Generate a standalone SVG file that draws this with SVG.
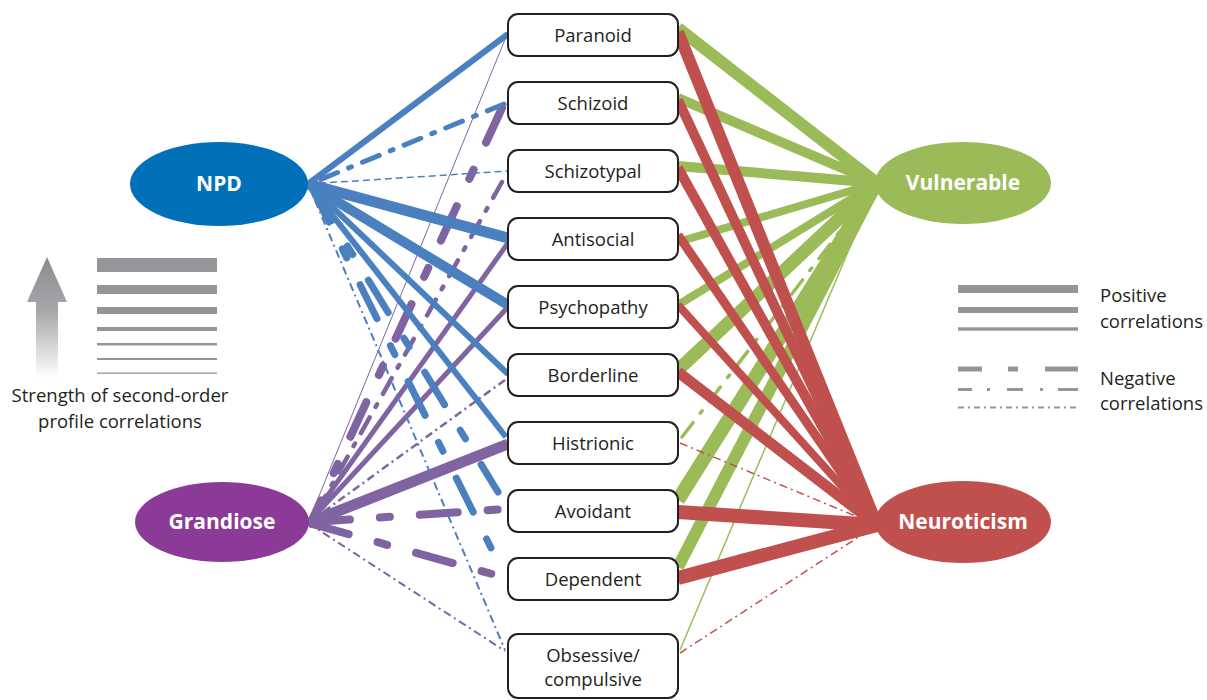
<svg xmlns="http://www.w3.org/2000/svg" width="1207" height="700" viewBox="0 0 1207 700">
<defs>
<linearGradient id="arrowGrad" x1="0" y1="0" x2="0" y2="1">
<stop offset="0" stop-color="#8a8b8e"/>
<stop offset="0.45" stop-color="#a7a8aa"/>
<stop offset="1" stop-color="#ffffff"/>
</linearGradient>
<style>
.box{fill:#fff;stroke:#231f20;stroke-width:2}
.lbl{font-family:"Open Sans","Liberation Sans",sans-serif;font-size:18.5px;fill:#231f20;text-anchor:middle}
.hub{font-family:"Open Sans","Liberation Sans",sans-serif;font-size:21px;font-weight:bold;fill:#fff;text-anchor:middle}
.leg{font-family:"Open Sans","Liberation Sans",sans-serif;font-size:18.5px;fill:#231f20}
.b{stroke:#4a80c0;fill:none}
.p{stroke:#8064a2;fill:none}
.g{stroke:#9bbb59;fill:none}
.r{stroke:#c0504d;fill:none}
.s{stroke-linecap:butt}
.heavy{stroke-linecap:round;stroke-dasharray:38 30 10 30}
.mid{stroke-linecap:round;stroke-dasharray:18 12 3 12}
.thin{stroke-dasharray:8 4 2 4}
.dash{stroke-dasharray:7 4}
.lg{fill:#939598}
</style>
</defs>
<rect width="1207" height="700" fill="#fff"/>
<g id="connectors">
<line class="g s" x1="678" y1="28" x2="877" y2="183" stroke-width="12"/>
<line class="g s" x1="678" y1="98" x2="877" y2="183" stroke-width="10"/>
<line class="g s" x1="678" y1="166" x2="877" y2="183" stroke-width="10"/>
<line class="g s" x1="678" y1="242" x2="877" y2="183" stroke-width="8"/>
<line class="g s" x1="678" y1="305" x2="877" y2="183" stroke-width="8"/>
<line class="g s" x1="678" y1="370" x2="877" y2="183" stroke-width="13"/>
<line class="g mid" x1="682" y1="437" x2="877" y2="183" stroke-width="3.5"/>
<line class="g s" x1="678" y1="500" x2="877" y2="183" stroke-width="14"/>
<line class="g s" x1="678" y1="567" x2="877" y2="183" stroke-width="12"/>
<line class="g s" x1="680" y1="650" x2="877" y2="183" stroke-width="1.5"/>
<line class="r s" x1="678" y1="32" x2="877" y2="525" stroke-width="12"/>
<line class="r s" x1="678" y1="100" x2="877" y2="525" stroke-width="10"/>
<line class="r s" x1="678" y1="168" x2="877" y2="525" stroke-width="10"/>
<line class="r s" x1="678" y1="235" x2="877" y2="525" stroke-width="9"/>
<line class="r s" x1="678" y1="305" x2="877" y2="525" stroke-width="8"/>
<line class="r s" x1="678" y1="372" x2="877" y2="525" stroke-width="11"/>
<line class="r thin" x1="680" y1="443" x2="877" y2="525" stroke-width="1.5"/>
<line class="r s" x1="678" y1="512" x2="877" y2="525" stroke-width="14"/>
<line class="r s" x1="678" y1="578" x2="877" y2="525" stroke-width="14"/>
<line class="r thin" x1="680" y1="653" x2="877" y2="525" stroke-width="1.5"/>
<line class="p s" x1="308" y1="523" x2="506" y2="37" stroke-width="1"/>
<line class="p heavy" x1="502" y1="108" x2="312" y2="520" stroke-width="8"/>
<line class="p mid" x1="502" y1="182" x2="312" y2="520" stroke-width="4.5"/>
<line class="p s" x1="308" y1="523" x2="508" y2="243" stroke-width="5"/>
<line class="p s" x1="308" y1="523" x2="508" y2="307" stroke-width="5"/>
<line class="p thin" x1="505" y1="380" x2="308" y2="523" stroke-width="2.5"/>
<line class="p s" x1="308" y1="523" x2="508" y2="444" stroke-width="11"/>
<line class="p heavy" x1="312" y1="522" x2="505" y2="509" stroke-width="8"/>
<line class="p heavy" x1="312" y1="524" x2="503" y2="577" stroke-width="8"/>
<line class="p thin" x1="308" y1="523" x2="505" y2="651" stroke-width="2"/>
<line class="b s" x1="308" y1="184" x2="508" y2="34" stroke-width="6"/>
<line class="b mid" x1="504" y1="104" x2="312" y2="183" stroke-width="5"/>
<line class="b dash" x1="308" y1="184" x2="508" y2="171" stroke-width="1.5"/>
<line class="b s" x1="308" y1="184" x2="508" y2="238" stroke-width="11"/>
<line class="b s" x1="308" y1="184" x2="508" y2="305" stroke-width="10"/>
<line class="b s" x1="308" y1="184" x2="508" y2="374" stroke-width="6"/>
<line class="b s" x1="308" y1="184" x2="506" y2="437" stroke-width="6"/>
<line class="b heavy" x1="312" y1="188" x2="498" y2="492" stroke-width="7"/>
<line class="b heavy" x1="312" y1="188" x2="503" y2="572" stroke-width="7"/>
<line class="b thin" x1="308" y1="184" x2="505" y2="650" stroke-width="2"/>
</g>
<g id="npd"><ellipse cx="219" cy="184" rx="89" ry="42" fill="#0070b8"/><text class="hub" x="219" y="191">NPD</text></g>
<g id="grandiose"><ellipse cx="222" cy="522" rx="87" ry="40" fill="#8b3a97"/><text class="hub" x="222" y="529">Grandiose</text></g>
<g id="vulnerable"><ellipse cx="963" cy="183" rx="88" ry="41" fill="#9bbb59"/><text class="hub" x="963" y="190">Vulnerable</text></g>
<g id="neuroticism"><ellipse cx="963" cy="522" rx="88" ry="41" fill="#c0504d"/><text class="hub" x="963" y="529">Neuroticism</text></g>
<g id="paranoid"><rect class="box" x="508" y="14" width="170" height="42" rx="10"/><text class="lbl" x="593" y="42">Paranoid</text></g>
<g id="schizoid"><rect class="box" x="508" y="82" width="170" height="42" rx="10"/><text class="lbl" x="593" y="110">Schizoid</text></g>
<g id="schizotypal"><rect class="box" x="508" y="150" width="170" height="42" rx="10"/><text class="lbl" x="593" y="178">Schizotypal</text></g>
<g id="antisocial"><rect class="box" x="508" y="218" width="170" height="42" rx="10"/><text class="lbl" x="593" y="246">Antisocial</text></g>
<g id="psychopathy"><rect class="box" x="508" y="286" width="170" height="42" rx="10"/><text class="lbl" x="593" y="314">Psychopathy</text></g>
<g id="borderline"><rect class="box" x="508" y="354" width="170" height="42" rx="10"/><text class="lbl" x="593" y="382">Borderline</text></g>
<g id="histrionic"><rect class="box" x="508" y="422" width="170" height="42" rx="10"/><text class="lbl" x="593" y="450">Histrionic</text></g>
<g id="avoidant"><rect class="box" x="508" y="490" width="170" height="42" rx="10"/><text class="lbl" x="593" y="518">Avoidant</text></g>
<g id="dependent"><rect class="box" x="508" y="558" width="170" height="42" rx="10"/><text class="lbl" x="593" y="586">Dependent</text></g>
<g id="obsessive"><rect class="box" x="508" y="634" width="170" height="64" rx="10"/><text class="lbl" x="593" y="662">Obsessive/</text><text class="lbl" x="593" y="686">compulsive</text></g>
<g id="legend-strength">
<polygon points="47,257 67,302 58,302 58,378 36,378 36,302 27,302" fill="url(#arrowGrad)"/>
<rect class="lg" x="97" y="258" width="120" height="14"/>
<rect class="lg" x="97" y="285" width="120" height="9"/>
<rect class="lg" x="97" y="307" width="120" height="7"/>
<rect class="lg" x="97" y="327" width="120" height="4"/>
<rect class="lg" x="97" y="343" width="120" height="2.5"/>
<rect class="lg" x="97" y="358" width="120" height="2"/>
<rect class="lg" x="97" y="372.5" width="120" height="1.3"/>
<text class="leg" x="120" y="402" text-anchor="middle">Strength of second-order</text>
<text class="leg" x="120" y="428" text-anchor="middle">profile correlations</text>
</g>
<g id="legend-sign">
<rect class="lg" x="958" y="285" width="120" height="8"/>
<rect class="lg" x="958" y="307" width="120" height="6"/>
<rect class="lg" x="958" y="327.3" width="120" height="3.4"/>
<line x1="958" y1="369" x2="1078" y2="369" stroke="#939598" stroke-width="5" stroke-dasharray="24 26 10 27 33"/>
<line x1="958" y1="389.5" x2="1078" y2="389.5" stroke="#939598" stroke-width="3" stroke-dasharray="14 15 3 17 16 17 3 15 20"/>
<line x1="958" y1="407.5" x2="1078" y2="407.5" stroke="#939598" stroke-width="2" stroke-dasharray="6 4 2 4"/>
<text class="leg" x="1100" y="302">Positive</text>
<text class="leg" x="1100" y="328">correlations</text>
<text class="leg" x="1100" y="385">Negative</text>
<text class="leg" x="1100" y="410">correlations</text>
</g>
</svg>
